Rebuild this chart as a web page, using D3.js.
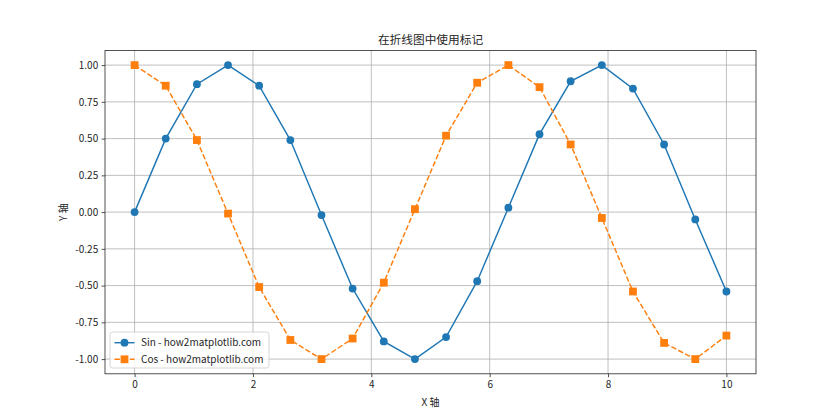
<!DOCTYPE html>
<html><head><meta charset="utf-8">
<script src="https://cdn.jsdelivr.net/npm/d3@7"></script>
<style>body{margin:0;background:#fff}svg{display:block}text{font-family:"Noto Sans CJK SC","DejaVu Sans",sans-serif;fill:#262626}</style>
</head><body><svg id="c" width="840" height="420"></svg>
<script>
const xValues = [0, 0.526, 1.053, 1.579, 2.105, 2.632, 3.158, 3.684, 4.211, 4.737, 5.263, 5.789, 6.316, 6.842, 7.368, 7.895, 8.421, 8.947, 9.474, 10];
const sinValues = [0, 0.50, 0.87, 1.00, 0.86, 0.49, -0.02, -0.52, -0.88, -1.00, -0.85, -0.47, 0.03, 0.53, 0.89, 1.00, 0.84, 0.46, -0.05, -0.54];
const cosValues = [1.00, 0.86, 0.49, -0.01, -0.51, -0.87, -1.00, -0.86, -0.48, 0.02, 0.52, 0.88, 1.00, 0.85, 0.46, -0.04, -0.54, -0.89, -1.00, -0.84];
const xTicks = [0, 2, 4, 6, 8, 10];
const yTicks = [-1.00, -0.75, -0.50, -0.25, 0.00, 0.25, 0.50, 0.75, 1.00];
const seriesNames = ["Sin - how2matplotlib.com", "Cos - how2matplotlib.com"];
const titleText = "在折线图中使用标记";
const xLabel = "X 轴", yLabel = "Y 轴";

const L = 105, R = 756, T = 50.4, B = 373.8;
const svg = d3.select("#c");
const x = d3.scaleLinear().domain([-0.5, 10.5]).range([L, R]);
const y = d3.scaleLinear().domain([-1.1, 1.1]).range([B, T]);

// grid
const g = svg.append("g");
g.selectAll(".gx").data(xTicks).enter().append("line")
  .attr("x1", d => x(d)).attr("x2", d => x(d)).attr("y1", T).attr("y2", B)
  .attr("stroke", "#b0b0b0").attr("stroke-width", 0.8);
g.selectAll(".gy").data(yTicks).enter().append("line")
  .attr("y1", d => y(d)).attr("y2", d => y(d)).attr("x1", L).attr("x2", R)
  .attr("stroke", "#b0b0b0").attr("stroke-width", 0.8);

// axes
const xa = svg.append("g").attr("transform", `translate(0,${B})`)
  .call(d3.axisBottom(x).tickValues(xTicks).tickFormat(d3.format("d")).tickSize(3.4).tickPadding(3.4));
const ya = svg.append("g").attr("transform", `translate(${L},0)`)
  .call(d3.axisLeft(y).tickValues(yTicks).tickFormat(d => d3.format(".2f")(d).replace("−","-")).tickSize(3.4).tickPadding(3.4));
[xa, ya].forEach(a => {
  a.select(".domain").remove();
  a.selectAll(".tick line").attr("stroke", "#262626").attr("stroke-width", 0.8);
  a.selectAll(".tick text").style("font-size", "10px").attr("fill", "#262626");
});
svg.append("rect").attr("x", L).attr("y", T).attr("width", R - L).attr("height", B - T)
  .attr("fill", "none").attr("stroke", "#262626").attr("stroke-width", 0.8);

const line = d3.line().x(d => x(d[0])).y(d => y(d[1]));
const sinPts = xValues.map((v, i) => [v, sinValues[i]]);
const cosPts = xValues.map((v, i) => [v, cosValues[i]]);
const clip = svg.append("g");
clip.append("path").datum(sinPts).attr("d", line).attr("fill", "none").attr("stroke", "#1f77b4").attr("stroke-width", 1.46);
clip.selectAll(".ms").data(sinPts).enter().append("circle")
  .attr("cx", d => x(d[0])).attr("cy", d => y(d[1])).attr("r", 3.9).attr("fill", "#1f77b4");
clip.append("path").datum(cosPts).attr("d", line).attr("fill", "none").attr("stroke", "#ff7f0e").attr("stroke-width", 1.46).attr("stroke-dasharray", "5.4,2.3");
clip.selectAll(".mc").data(cosPts).enter().append("rect")
  .attr("x", d => x(d[0]) - 3.9).attr("y", d => y(d[1]) - 3.9).attr("width", 7.8).attr("height", 7.8).attr("fill", "#ff7f0e");

// title & labels
svg.append("text").attr("x", (L + R) / 2).attr("y", T - 6).attr("text-anchor", "middle").style("font-size", "11.7px").text(titleText);
svg.append("text").attr("x", (L + R) / 2).attr("y", 406).attr("text-anchor", "middle").style("font-size", "10px").text(xLabel);
svg.append("text").attr("transform", `translate(66.5,${(T + B) / 2}) rotate(-90)`).attr("text-anchor", "middle").style("font-size", "10px").text(yLabel);

// legend
const lg = svg.append("g");
lg.append("rect").attr("x", 110).attr("y", 332).attr("width", 159).attr("height", 36).attr("rx", 2.5)
  .attr("fill", "#fff").attr("fill-opacity", 0.8).attr("stroke", "#cccccc").attr("stroke-width", 0.8);
const colors = ["#1f77b4", "#ff7f0e"];
seriesNames.forEach((n, i) => {
  const cy = 342.7 + i * 16.6;
  lg.append("line").attr("x1", 114.5).attr("x2", 134.5).attr("y1", cy).attr("y2", cy)
    .attr("stroke", colors[i]).attr("stroke-width", 1.46).attr("stroke-dasharray", i ? "5.4,2.3" : null);
  if (i === 0) lg.append("circle").attr("cx", 124.5).attr("cy", cy).attr("r", 3.9).attr("fill", colors[i]);
  else lg.append("rect").attr("x", 120.6).attr("y", cy - 3.9).attr("width", 7.8).attr("height", 7.8).attr("fill", colors[i]);
  lg.append("text").attr("x", 141).attr("y", cy + 3.6).style("font-size", "10px").text(n);
});
</script></body></html>
